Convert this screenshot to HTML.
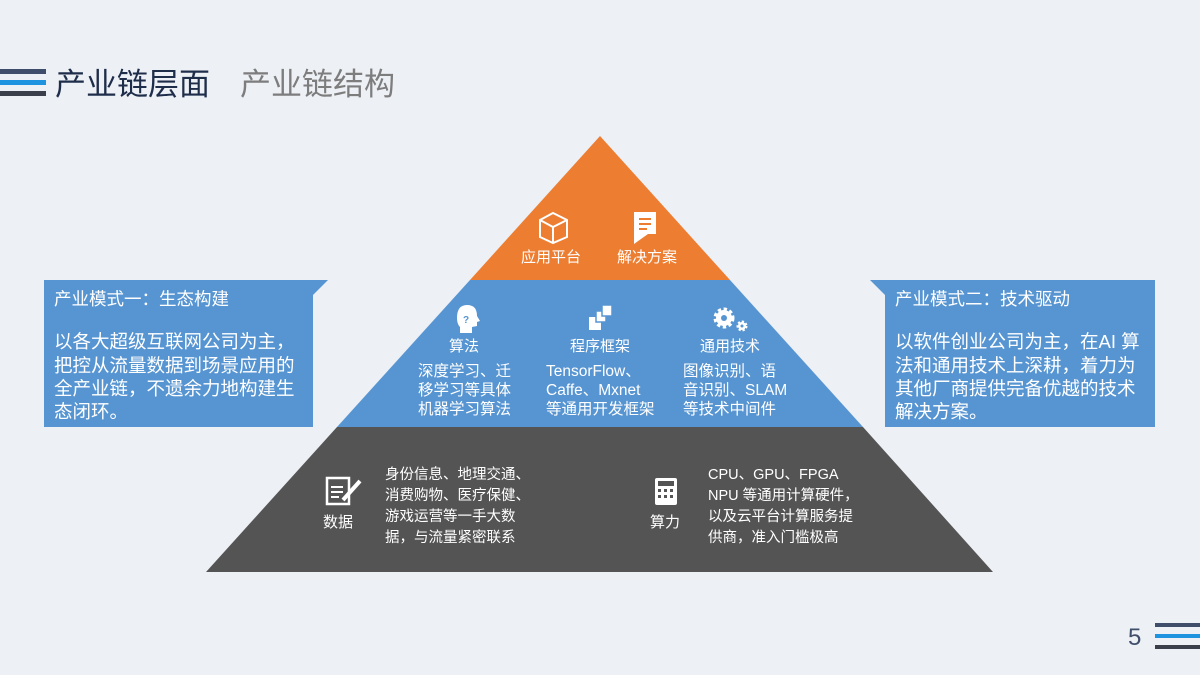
<!DOCTYPE html>
<html><head><meta charset="utf-8"><style>
body{margin:0;width:1200px;height:675px;background:#edf0f5;overflow:hidden;font-family:"Liberation Sans","Noto Sans CJK SC",sans-serif;}
svg{position:absolute;left:0;top:0}
text{font-family:"Liberation Sans","Noto Sans CJK SC",sans-serif;}
</style></head><body>
<svg width="1200" height="675" viewBox="0 0 1200 675">
<rect x="0" y="69" width="46" height="5" fill="#3f4e6b"/>
<rect x="0" y="80" width="46" height="5" fill="#1e94e0"/>
<rect x="0" y="91" width="46" height="5" fill="#3a3f4b"/>
<text x="55" y="95" font-size="31" fill="#1e2d4a">产业链层面</text>
<text x="240" y="95" font-size="31" fill="#7d7d7d">产业链结构</text>

<polygon points="600,136 730,280 470,280" fill="#ed7d31"/>
<polygon points="470,280 730,280 863,427 337,427" fill="#5795d2"/>
<polygon points="337,427 863,427 993,572 206,572" fill="#545454"/>

<polygon points="44,280 328,280 313,295 313,427 44,427" fill="#5795d2"/>
<polygon points="870,280 1155,280 1155,427 885,427 885,295" fill="#5795d2"/>
<g fill="#fff" font-size="17.5">
<text x="54" y="305">产业模式一：生态构建</text>
<text x="54" y="348" font-size="18.5">以各大超级互联网公司为主，</text>
<text x="54" y="372" font-size="18.5">把控从流量数据到场景应用的</text>
<text x="54" y="395" font-size="18.5">全产业链，不遗余力地构建生</text>
<text x="54" y="418" font-size="18.5">态闭环。</text>
<text x="895" y="305">产业模式二：技术驱动</text>
<text x="895" y="348" font-size="18.5">以软件创业公司为主，在AI 算</text>
<text x="895" y="372" font-size="18.5">法和通用技术上深耕，着力为</text>
<text x="895" y="395" font-size="18.5">其他厂商提供完备优越的技术</text>
<text x="895" y="418" font-size="18.5">解决方案。</text>
</g>

<g fill="#fff" font-size="15">
<g stroke="#fff" stroke-width="2" fill="none">
<polygon points="540,220 553,213 567,220 567,237 553,243 540,237"/>
<polyline points="540,220 553,227 567,220"/><line x1="553" y1="227" x2="553" y2="243"/>
</g>
<path d="M634,212 h22 v22 l-8,0 -14,10 z" fill="#fff"/>
<g stroke="#ed7d31" stroke-width="2"><line x1="639" y1="219" x2="651" y2="219"/><line x1="639" y1="224" x2="651" y2="224"/><line x1="639" y1="229" x2="647" y2="229"/></g>
<text x="521" y="262">应用平台</text>
<text x="617" y="262">解决方案</text>

<path d="M457,318 q0,-13 10,-13 q10,0 10,11 l3,5 -3,1 0,4 -5,1 0,6 -12,0 0,-6 q-3,-3 -3,-9z" fill="#fff"/>
<text x="463" y="323" font-size="10" fill="#5795d2" font-weight="bold">?</text>
<rect x="589" y="317" width="12" height="13" fill="#fff"/>
<rect x="596" y="311" width="10" height="11" fill="#fff" stroke="#5795d2" stroke-width="1.5"/>
<rect x="602" y="305" width="10" height="11" fill="#fff" stroke="#5795d2" stroke-width="1.5"/>
<circle cx="724" cy="318" r="8" fill="#fff" stroke="#fff" stroke-width="5" stroke-dasharray="3 2.3"/>
<circle cx="724" cy="318" r="3" fill="#5795d2"/>
<circle cx="742" cy="326" r="4" fill="#fff" stroke="#fff" stroke-width="3" stroke-dasharray="2 1.7"/>
<circle cx="742" cy="326" r="1.5" fill="#5795d2"/>
<text x="449" y="351">算法</text>
<text x="570" y="351">程序框架</text>
<text x="700" y="351">通用技术</text>
<g font-size="15.5">
<text x="418" y="376">深度学习、迁</text>
<text x="418" y="395">移学习等具体</text>
<text x="418" y="414">机器学习算法</text>
<text x="546" y="376">TensorFlow、</text>
<text x="546" y="395">Caffe、Mxnet</text>
<text x="546" y="414">等通用开发框架</text>
<text x="683" y="376">图像识别、语</text>
<text x="683" y="395">音识别、SLAM</text>
<text x="683" y="414">等技术中间件</text>
</g>

<rect x="327" y="478" width="22" height="26" fill="none" stroke="#fff" stroke-width="2.5"/>
<g stroke="#fff" stroke-width="2"><line x1="331" y1="487" x2="343" y2="487"/><line x1="331" y1="492" x2="343" y2="492"/><line x1="331" y1="497" x2="339" y2="497"/><line x1="343" y1="500" x2="360" y2="481" stroke-width="4"/></g>
<rect x="655" y="478" width="22" height="27" rx="2" fill="#fff"/>
<rect x="658" y="481" width="16" height="5" fill="#545454"/>
<g fill="#545454"><rect x="658" y="489" width="3" height="3"/><rect x="664" y="489" width="3" height="3"/><rect x="670" y="489" width="3" height="3"/><rect x="658" y="495" width="3" height="3"/><rect x="664" y="495" width="3" height="3"/><rect x="670" y="495" width="3" height="3"/></g>
<text x="323" y="527">数据</text>
<text x="650" y="527">算力</text>
<g font-size="14.5">
<text x="385" y="479">身份信息、地理交通、</text>
<text x="385" y="500">消费购物、医疗保健、</text>
<text x="385" y="521">游戏运营等一手大数</text>
<text x="385" y="542">据，与流量紧密联系</text>
<text x="708" y="479">CPU、GPU、FPGA</text>
<text x="708" y="500">NPU 等通用计算硬件，</text>
<text x="708" y="521">以及云平台计算服务提</text>
<text x="708" y="542">供商，准入门槛极高</text>
</g>
</g>

<text x="1128" y="645" font-size="24" fill="#3f4e6b">5</text>
<rect x="1155" y="623" width="45" height="4" fill="#3f4e6b"/>
<rect x="1155" y="634" width="45" height="4" fill="#1e94e0"/>
<rect x="1155" y="645" width="45" height="4" fill="#3a3f4b"/>
</svg>
</body></html>
